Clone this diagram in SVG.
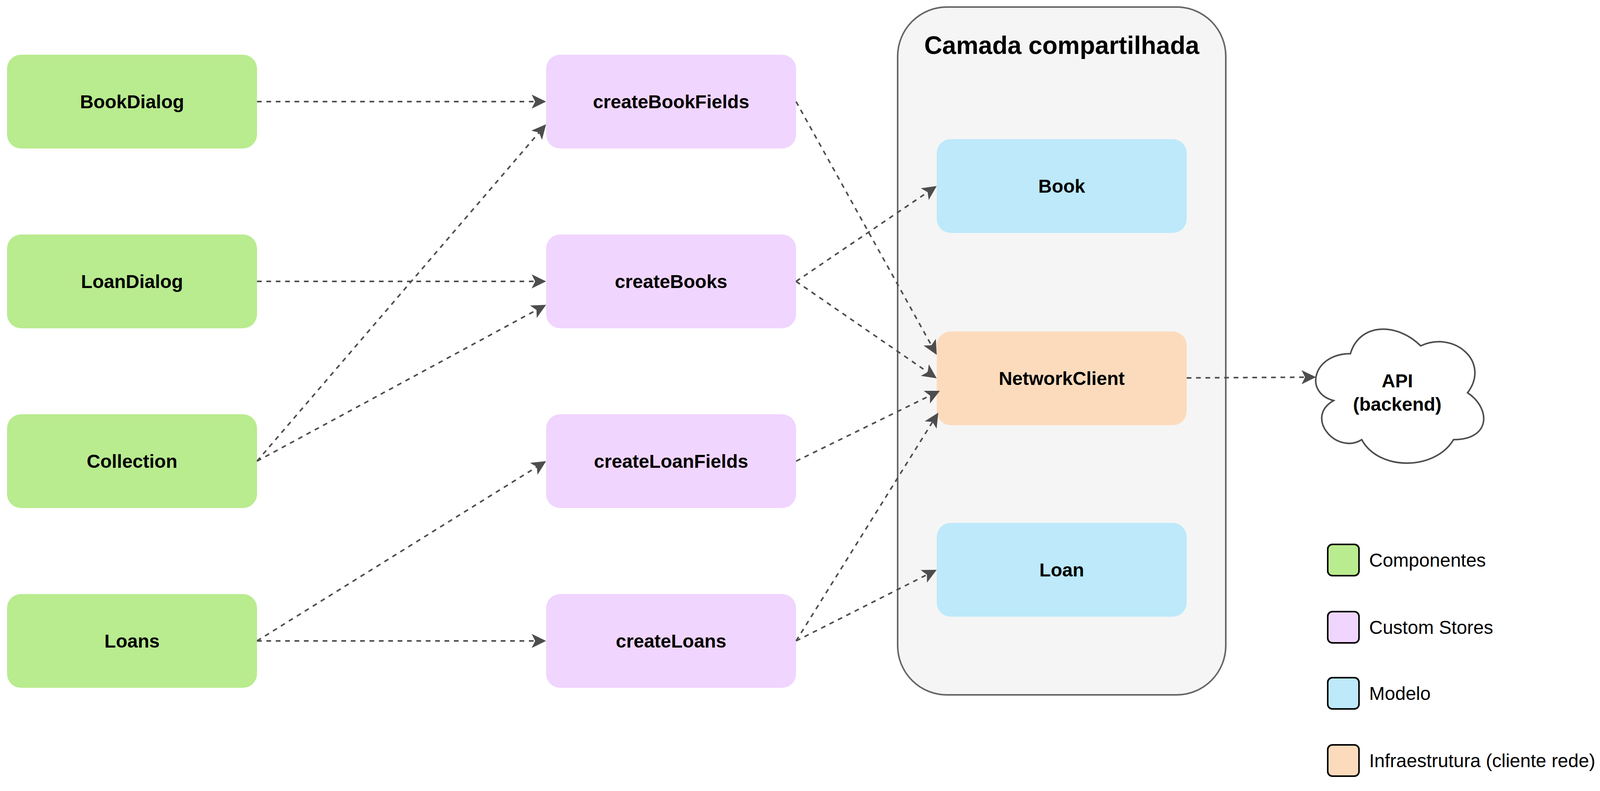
<svg xmlns="http://www.w3.org/2000/svg" width="4272" height="2024" viewBox="0 0 4272 2024">
<style>
  .lbl{font-family:"Liberation Sans",Arial,Helvetica,sans-serif;font-weight:bold;font-size:48px;fill:#000;text-anchor:middle}
  .title{font-family:"Liberation Sans",Arial,Helvetica,sans-serif;font-weight:bold;font-size:64px;fill:#000;text-anchor:middle}
  .leg{font-family:"Liberation Sans",Arial,Helvetica,sans-serif;font-size:48px;fill:#000}
  .comp{fill:#B9EB8F}
  .store{fill:#F0D5FE}
  .model{fill:#BDE9FB}
  .infra{fill:#FCDBBD}
  .edge{fill:none;stroke:#4D4D4D;stroke-width:4;stroke-dasharray:12 12;marker-end:url(#arr)}
  .legbox{stroke:#000;stroke-width:4}
</style>
<defs>
  <marker id="arr" markerUnits="userSpaceOnUse" markerWidth="38" markerHeight="38" refX="9" refY="18" orient="auto" viewBox="0 0 38 36">
    <path d="M0,0 L37,18 L0,36 L9,18 Z" fill="#4D4D4D"/>
  </marker>
</defs>
<rect width="4272" height="2024" fill="#FFFFFF"/>

<g id="container-camada">
  <rect x="2298" y="18" width="840" height="1760" rx="126" ry="126" fill="#F5F5F5" stroke="#666666" stroke-width="4"/>
  <text class="title" x="2718" y="138">Camada compartilhada</text>
</g>

<g id="node-bookdialog"><rect class="comp" x="18" y="140" width="640" height="240" rx="36"/><text class="lbl" x="338" y="277">BookDialog</text></g>
<g id="node-loandialog"><rect class="comp" x="18" y="600" width="640" height="240" rx="36"/><text class="lbl" x="338" y="737">LoanDialog</text></g>
<g id="node-collection"><rect class="comp" x="18" y="1060" width="640" height="240" rx="36"/><text class="lbl" x="338" y="1197">Collection</text></g>
<g id="node-loans"><rect class="comp" x="18" y="1520" width="640" height="240" rx="36"/><text class="lbl" x="338" y="1657">Loans</text></g>

<g id="node-createbookfields"><rect class="store" x="1398" y="140" width="640" height="240" rx="36"/><text class="lbl" x="1718" y="277">createBookFields</text></g>
<g id="node-createbooks"><rect class="store" x="1398" y="600" width="640" height="240" rx="36"/><text class="lbl" x="1718" y="737">createBooks</text></g>
<g id="node-createloanfields"><rect class="store" x="1398" y="1060" width="640" height="240" rx="36"/><text class="lbl" x="1718" y="1197">createLoanFields</text></g>
<g id="node-createloans"><rect class="store" x="1398" y="1520" width="640" height="240" rx="36"/><text class="lbl" x="1718" y="1657">createLoans</text></g>

<g id="node-book"><rect class="model" x="2398" y="356" width="640" height="240" rx="36"/><text class="lbl" x="2718" y="493">Book</text></g>
<g id="node-networkclient"><rect class="infra" x="2398" y="848" width="640" height="240" rx="36"/><text class="lbl" x="2718" y="985">NetworkClient</text></g>
<g id="node-loan"><rect class="model" x="2398" y="1338" width="640" height="240" rx="36"/><text class="lbl" x="2718" y="1475">Loan</text></g>

<g id="node-api">
  <path d="M3457,905 C3361,905 3337,1005 3414,1025 C3337,1069 3423,1165 3486,1125 C3529,1205 3673,1205 3721,1125 C3817,1125 3817,1045 3757,1005 C3817,925 3721,845 3637,885 C3577,825 3481,825 3457,905 Z" fill="#FFFFFF" stroke="#4D4D4D" stroke-width="4"/>
  <text class="lbl" x="3577" y="991">API</text>
  <text class="lbl" x="3577" y="1051">(backend)</text>
</g>

<g id="connectors">
  <path class="edge" d="M658,260 L1370,260"/>
  <path class="edge" d="M658,720 L1370,720"/>
  <path class="edge" d="M658,1180 L1379.8,339.2"/>
  <path class="edge" d="M658,1180 L1373.4,793.3"/>
  <path class="edge" d="M658,1640 L1374.2,1194.8"/>
  <path class="edge" d="M658,1640 L1370,1640"/>
  <path class="edge" d="M2038,260 L2384.4,883.5"/>
  <path class="edge" d="M2038,720 L2374.8,491.7"/>
  <path class="edge" d="M2038,720 L2374.9,952.1"/>
  <path class="edge" d="M2038,1180 L2380.9,1012.3"/>
  <path class="edge" d="M2038,1640 L2387.2,1079.8"/>
  <path class="edge" d="M2038,1640 L2373,1470.6"/>
  <path class="edge" d="M3038,967 L3341,965.2"/>
</g>

<g id="legend">
  <g id="legend-componentes"><rect class="comp legbox" x="3399" y="1393" width="80" height="80" rx="12"/><text class="leg" x="3505" y="1450">Componentes</text></g>
  <g id="legend-stores"><rect class="store legbox" x="3399" y="1565" width="80" height="80" rx="12"/><text class="leg" x="3505" y="1622">Custom Stores</text></g>
  <g id="legend-modelo"><rect class="model legbox" x="3399" y="1734" width="80" height="80" rx="12"/><text class="leg" x="3505" y="1791">Modelo</text></g>
  <g id="legend-infra"><rect class="infra legbox" x="3399" y="1906" width="80" height="80" rx="12"/><text class="leg" x="3505" y="1963">Infraestrutura (cliente rede)</text></g>
</g>
</svg>
